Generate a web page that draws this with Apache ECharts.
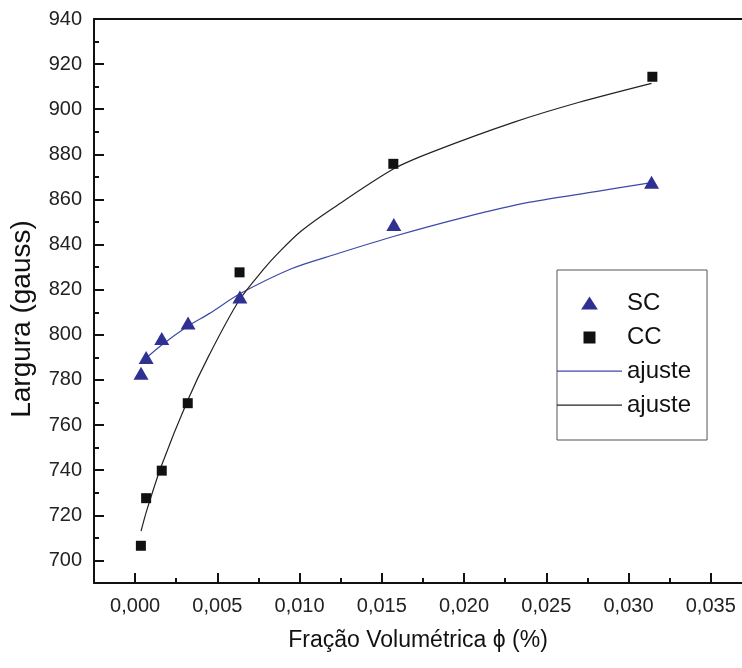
<!DOCTYPE html>
<html>
<head>
<meta charset="utf-8">
<script src="https://cdn.jsdelivr.net/npm/echarts@6/dist/echarts.min.js"></script>
<style>html,body{margin:0;padding:0;background:#fff}#c{width:742px;height:668px}</style>
</head>
<body>
<div id="c"></div>
<script>
// Data
var scX = [0.00036, 0.00067, 0.00162, 0.00322, 0.00637, 0.01573, 0.0314];
var scY = [783, 790, 798.4, 805.3, 816.8, 848.9, 867.6];
var ccX = [0.00035, 0.00067, 0.00162, 0.0032, 0.00635, 0.0157, 0.03145];
var ccY = [706.5, 727.6, 739.8, 769.7, 827.7, 875.8, 914.4];
var fitScX = [0.0004, 0.0016, 0.0032, 0.0045, 0.0064, 0.0095, 0.012, 0.0157, 0.020, 0.024, 0.028, 0.0314];
var fitScY = [788, 795.4, 803.8, 809.4, 818.3, 829.3, 835.3, 843.6, 852.1, 858.8, 863.5, 867.5];
var fitCcX = [0.00036, 0.0007, 0.0016, 0.0032, 0.0045, 0.0063, 0.0078, 0.0088, 0.0101, 0.012, 0.0157, 0.018, 0.023, 0.027, 0.0314];
var fitCcY = [713, 722, 742, 771, 791, 815, 829, 837, 846, 856, 873.5, 880.9, 894.2, 903.1, 911.5];
var xTicks = [0, 0.005, 0.010, 0.015, 0.020, 0.025, 0.030, 0.035];
var xMinorTicks = [-0.0025, 0.0025, 0.0075, 0.0125, 0.0175, 0.0225, 0.0275, 0.0325];
var yTicks = [700, 720, 740, 760, 780, 800, 820, 840, 860, 880, 900, 920, 940];
var yMinorTicks = [710, 730, 750, 770, 790, 810, 830, 850, 870, 890, 910, 930];

function pairs(xs, ys) { return xs.map(function (x, i) { return [x, ys[i]]; }); }

var FONT = 'Liberation Sans';
var XMIN = -0.0025, XMAX = 0.0369, YMIN = 690, YMAX = 940;
var axisLineStyle = { color: '#111', width: 2 };
var tickStyle = { color: '#111', width: 2 };

// legend icons: fixed 65x13 boxes (degenerate corner points keep the box size)
var BOX = 'M0,0 L0,0 M65,13 L65,13 ';
var iconTri = 'path://' + BOX + 'M23.5,13 L32.5,-1 L41.5,13 Z';
var iconSq = 'path://' + BOX + 'M26.5,1 L38.5,1 L38.5,13 L26.5,13 Z';
var iconLine = 'path://' + BOX + 'M0,6 L65,6 L65,7.2 L0,7.2 Z';

var chart = echarts.init(document.getElementById('c'), null, { renderer: 'canvas' });
chart.setOption({
  animation: false,
  backgroundColor: '#fff',
  grid: { left: 93, top: 19, right: 0, bottom: 85, containLabel: false },
  legend: {
    orient: 'vertical',
    left: 557, top: 270,
    padding: [20, 16, 22, 0],
    borderColor: '#555', borderWidth: 1,
    itemWidth: 65, itemHeight: 13, itemGap: 8,
    textStyle: { fontFamily: FONT, fontSize: 24, color: '#111', lineHeight: 26 },
    formatter: function (n) { return n.indexOf('ajuste') === 0 ? 'ajuste' : n; },
    data: [
      { name: 'SC', icon: iconTri },
      { name: 'CC', icon: iconSq },
      { name: 'ajusteSC', icon: iconLine },
      { name: 'ajusteCC', icon: iconLine }
    ]
  },
  xAxis: [{
    type: 'value', min: XMIN, max: XMAX, position: 'bottom',
    name: 'Fração Volumétrica ϕ (%)', nameLocation: 'middle', nameGap: 46,
    nameTextStyle: { fontFamily: FONT, fontSize: 23, color: '#111' },
    axisLine: { onZero: false, lineStyle: axisLineStyle },
    axisTick: { inside: true, length: 10, customValues: xTicks, lineStyle: tickStyle },
    axisLabel: { customValues: xTicks, margin: 13, fontFamily: FONT, fontSize: 20, color: '#222',
      formatter: function (v) { return v.toFixed(3).replace('.', ','); } },
    splitLine: { show: false }
  }, {
    type: 'value', min: XMIN, max: XMAX, position: 'bottom', offset: 0,
    axisLine: { show: false, onZero: false },
    axisTick: { inside: true, length: 5, customValues: xMinorTicks, lineStyle: tickStyle },
    axisLabel: { show: false }, splitLine: { show: false }
  }, {
    type: 'value', min: XMIN, max: XMAX, position: 'top',
    axisLine: { onZero: false, lineStyle: axisLineStyle },
    axisTick: { show: false }, axisLabel: { show: false }, splitLine: { show: false }
  }],
  yAxis: [{
    type: 'value', min: YMIN, max: YMAX, position: 'left',
    name: 'Largura (gauss)', nameLocation: 'middle', nameGap: 58, nameRotate: 90,
    nameTextStyle: { fontFamily: FONT, fontSize: 28, color: '#111', padding: [0, 36, 0, 0] },
    axisLine: { onZero: false, lineStyle: axisLineStyle },
    axisTick: { inside: true, length: 10, customValues: yTicks, lineStyle: tickStyle },
    axisLabel: { customValues: yTicks, margin: 12, fontFamily: FONT, fontSize: 20, color: '#222' },
    splitLine: { show: false }
  }, {
    type: 'value', min: YMIN, max: YMAX, position: 'left', offset: 0,
    axisLine: { show: false, onZero: false },
    axisTick: { inside: true, length: 5, customValues: yMinorTicks, lineStyle: tickStyle },
    axisLabel: { show: false }, splitLine: { show: false }
  }],
  series: [{
    name: 'ajusteSC', type: 'line', xAxisIndex: 0, yAxisIndex: 0,
    data: pairs(fitScX, fitScY), symbol: 'none', smooth: 0.3,
    lineStyle: { color: '#3b4aa8', width: 1.2 }, itemStyle: { color: '#3b4aa8' }, z: 2
  }, {
    name: 'ajusteCC', type: 'line', xAxisIndex: 0, yAxisIndex: 0,
    data: pairs(fitCcX, fitCcY), symbol: 'none', smooth: 0.3,
    lineStyle: { color: '#222', width: 1.2 }, itemStyle: { color: '#222' }, z: 2
  }, {
    name: 'SC', type: 'scatter', xAxisIndex: 0, yAxisIndex: 0,
    data: pairs(scX, scY), symbol: 'triangle', symbolSize: [15, 13],
    itemStyle: { color: '#2e3192', opacity: 1 }, z: 3
  }, {
    name: 'CC', type: 'scatter', xAxisIndex: 0, yAxisIndex: 0,
    data: pairs(ccX, ccY), symbol: 'rect', symbolSize: 10,
    itemStyle: { color: '#111', opacity: 1 }, z: 3
  }]
});
</script>
</body>
</html>
